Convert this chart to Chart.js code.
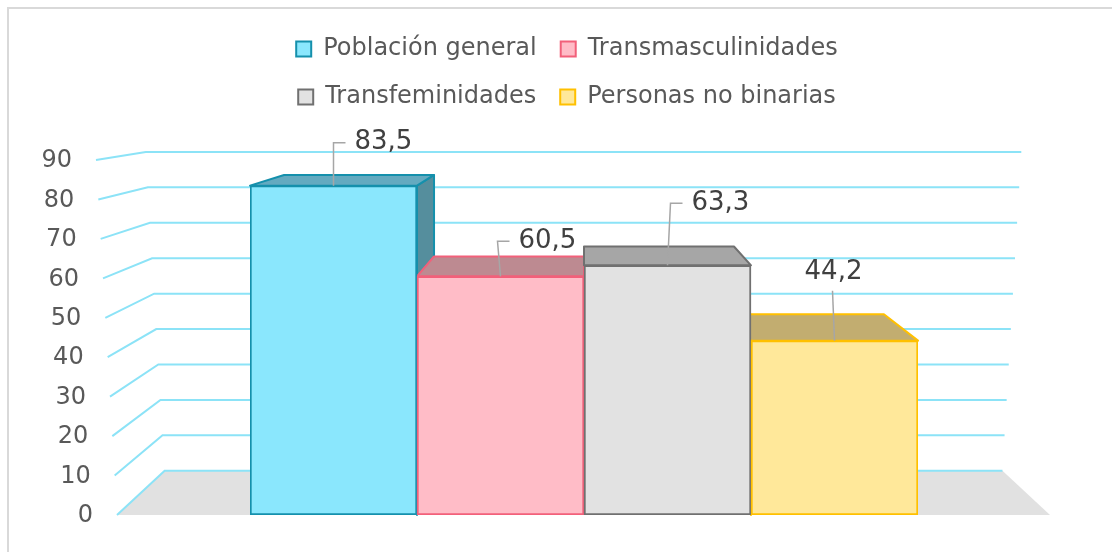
<!DOCTYPE html>
<html lang="es">
<head>
<meta charset="utf-8">
<title>Gráfica</title>
<script src="https://cdn.jsdelivr.net/npm/chart.js@4.4.1/dist/chart.umd.min.js"></script>
<style>
  html, body { margin: 0; padding: 0; background: #fff; overflow: hidden; }
  #contGrafica { position: relative; width: 1112px; height: 552px; }
  #grafica { display: block; }
</style>
</head>
<body>
<div id="contGrafica"><canvas id="grafica"></canvas></div>
<script>
// datos de la gráfica
const categorias = ['Población general', 'Transmasculinidades', 'Transfeminidades', 'Personas no binarias'];
const valores = [83.5, 60.5, 63.3, 44.2];
const marcasY = [0, 10, 20, 30, 40, 50, 60, 70, 80, 90];

// colores (frente, borde, cara superior, cara lateral)
const colFrente = ['#8AE7FD', '#FFBCC7', '#E2E2E2', '#FFE89A'];
const colBorde = ['#1590AC', '#F2607A', '#707070', '#FFC000'];
const colArriba = ['#64AAC0', '#BD8A91', '#A6A6A6', '#C2AD70'];
const colLado = ['#558E9D', '#A8737B', '#8C8C8C', '#A8945C'];

// posición de las etiquetas de valor respecto a la parte alta de cada barra
const guias = [
    { dx: 0, dy: -43, codo: true },
    { dx: -3, dy: -35, codo: true },
    { dx: 3, dy: -62, codo: true },
    { dx: -2, dy: -50, codo: false }
];

const FUENTE = '"DejaVu Sans", sans-serif';
const PROF = 0.102;      // profundidad del efecto 3D
const INCL = 0.0005;     // inclinación del plano frontal

function puntoFuga(ca) {
    return { x: (ca.left + ca.right) / 2, y: ca.top - 79 };
}
function atras(p, vp) {
    return { x: p.x + (vp.x - p.x) * PROF, y: p.y + (vp.y - p.y) * PROF };
}
function poligono(ctx, pts, relleno, borde, grosor) {
    ctx.beginPath();
    ctx.moveTo(pts[0].x, pts[0].y);
    for (let i = 1; i < pts.length; i++) ctx.lineTo(pts[i].x, pts[i].y);
    ctx.closePath();
    if (relleno) { ctx.fillStyle = relleno; ctx.fill(); }
    if (borde) { ctx.strokeStyle = borde; ctx.lineWidth = grosor; ctx.lineJoin = 'round'; ctx.stroke(); }
}
function formato(v) {
    return String(v).replace('.', ',');
}

// deja hueco entre la leyenda y el área de la gráfica, y la corre un poco a la izquierda
const espacioLeyenda = {
    id: 'espacioLeyenda',
    beforeLayout(chart) {
        const ley = chart.legend;
        if (ley && !ley._ajustada) {
            const fitOrig = ley.fit.bind(ley);
            ley.fit = function () { fitOrig(); this.height += 41; };
            ley._ajustada = true;
        }
    },
    afterLayout(chart) {
        if (chart.legend) {
            chart.legend.left -= 17;
            chart.legend.right -= 17;
        }
    }
};

// fondo, suelo, rejilla y caras 3D
const escena3D = {
    id: 'escena3D',
    beforeDraw(chart) {
        const ctx = chart.ctx;
        ctx.save();
        ctx.fillStyle = '#fff';
        ctx.fillRect(0, 0, chart.width, chart.height);
        ctx.strokeStyle = '#D9D9D9';
        ctx.lineWidth = 2;
        ctx.beginPath();
        ctx.moveTo(8, chart.height + 5);
        ctx.lineTo(8, 8);
        ctx.lineTo(chart.width + 5, 8);
        ctx.stroke();
        ctx.restore();
    },
    beforeDatasetsDraw(chart) {
        const ctx = chart.ctx;
        const ca = chart.chartArea;
        const ejeY = chart.scales.y;
        const vp = puntoFuga(ca);
        const izq0 = ca.left - 133;
        const der0 = ca.right + 132;
        ctx.save();

        // suelo
        const fl = { x: izq0, y: ca.bottom }, fr = { x: der0, y: ca.bottom };
        poligono(ctx, [fl, fr, atras(fr, vp), atras(fl, vp)], '#E1E1E1');

        // rejilla y etiquetas del eje
        ctx.font = '24px ' + FUENTE;
        ctx.textAlign = 'right';
        ctx.textBaseline = 'middle';
        marcasY.forEach(v => {
            const y = ejeY.getPixelForValue(v);
            const s = 1 + INCL * v;
            const pI = { x: vp.x - (vp.x - izq0) * s, y: y };
            const pD = { x: vp.x + (der0 - vp.x) * s, y: y };
            const bI = atras(pI, vp), bD = atras(pD, vp);
            ctx.strokeStyle = '#8CE3F7';
            ctx.lineWidth = 2;
            ctx.beginPath();
            ctx.moveTo(pI.x, pI.y);
            ctx.lineTo(bI.x, bI.y);
            ctx.lineTo(bD.x, bD.y);
            ctx.stroke();
            ctx.fillStyle = '#595959';
            ctx.fillText(String(v), pI.x - 24, y + 1);
        });

        // caras superiores y laterales
        const meta = chart.getDatasetMeta(0);
        meta.data.forEach((el, i) => {
            const p = el.getProps(['x', 'y', 'width', 'base'], true);
            const L = p.x - p.width / 2, R = p.x + p.width / 2;
            const fL = { x: L, y: p.y }, fR = { x: R, y: p.y };
            if (R < vp.x - 2) {
                const bR = { x: R, y: p.base };
                poligono(ctx, [fR, atras(fR, vp), atras(bR, vp), bR], colLado[i], colBorde[i], 2);
            } else if (L > vp.x + 2) {
                const bL = { x: L, y: p.base };
                poligono(ctx, [fL, atras(fL, vp), atras(bL, vp), bL], colLado[i], colBorde[i], 2);
            }
            poligono(ctx, [fL, fR, atras(fR, vp), atras(fL, vp)], colArriba[i], colBorde[i], 2);
        });
        ctx.restore();
    },
    afterDatasetsDraw(chart) {
        const ctx = chart.ctx;
        const meta = chart.getDatasetMeta(0);
        ctx.save();
        ctx.font = '26px ' + FUENTE;
        ctx.textBaseline = 'middle';
        meta.data.forEach((el, i) => {
            const g = guias[i];
            const x0 = el.x, y0 = el.y;
            const x1 = x0 + g.dx, y1 = y0 + g.dy;
            ctx.strokeStyle = '#A6A6A6';
            ctx.lineWidth = 1.5;
            ctx.beginPath();
            ctx.moveTo(x0, y0);
            ctx.lineTo(x1, y1);
            if (g.codo) ctx.lineTo(x1 + 12, y1);
            ctx.stroke();
            ctx.fillStyle = '#404040';
            if (g.codo) {
                ctx.textAlign = 'left';
                ctx.fillText(formato(valores[i]), x1 + 21, y1);
            } else {
                ctx.textAlign = 'center';
                ctx.fillText(formato(valores[i]), x1 + 1, y1 - 18);
            }
        });
        ctx.restore();
    }
};

Chart.defaults.font.family = FUENTE;

const grafica = new Chart(document.getElementById('grafica'), {
    type: 'bar',
    data: {
        labels: categorias,
        datasets: [{
            label: 'Porcentaje',
            data: valores,
            backgroundColor: colFrente,
            borderColor: colBorde,
            borderWidth: 2,
            borderSkipped: false,
            barPercentage: 1,
            categoryPercentage: 1
        }]
    },
    options: {
        responsive: true,
        maintainAspectRatio: false,
        animation: false,
        layout: { padding: { left: 250, right: 194, top: 13, bottom: 37 } },
        scales: {
            x: { display: false },
            y: {
                display: false,
                min: 0,
                max: 90,
                afterBuildTicks: scale => { scale.ticks = marcasY.map(v => ({ value: v })); }
            }
        },
        plugins: {
            tooltip: { enabled: false },
            legend: {
                position: 'top',
                onClick: null,
                labels: {
                    color: '#595959',
                    font: { size: 24 },
                    boxWidth: 15,
                    boxHeight: 15,
                    padding: 24,
                    generateLabels: () => categorias.map((c, i) => ({
                        text: c,
                        fillStyle: colFrente[i],
                        strokeStyle: colBorde[i],
                        lineWidth: 2,
                        fontColor: '#595959',
                        hidden: false,
                        index: i
                    }))
                }
            }
        }
    },
    plugins: [espacioLeyenda, escena3D]
});
</script>
</body>
</html>
